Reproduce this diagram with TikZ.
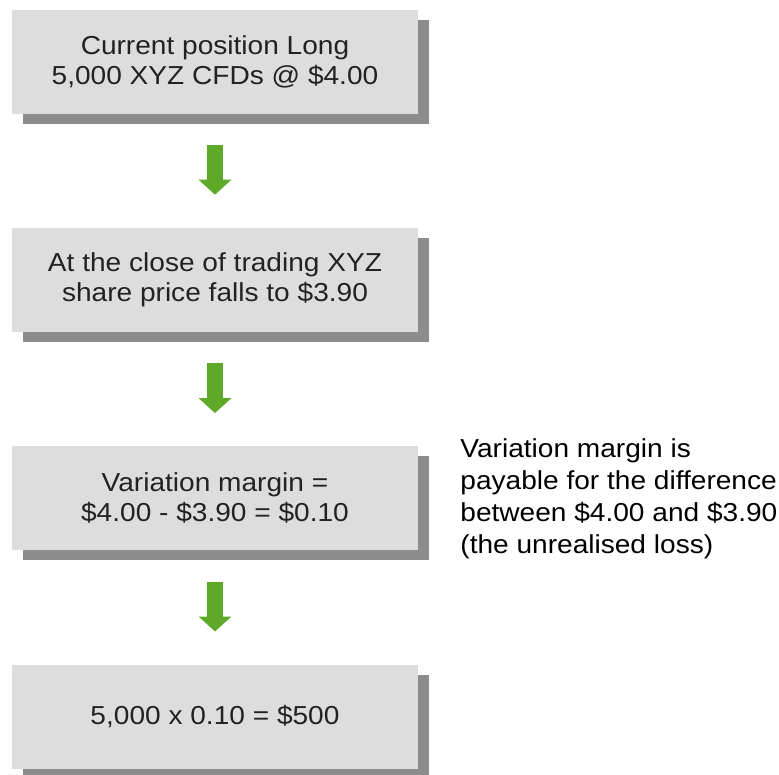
\documentclass[tikz,border=0pt]{standalone}
\usepackage{fontspec}
\setmainfont{Liberation Sans}[FakeStretch=1.08]
\usetikzlibrary{positioning,arrows.meta,shadows}

\definecolor{boxgray}{RGB}{221,221,221}
\definecolor{shadegray}{RGB}{140,140,140}
\definecolor{arrowgreen}{RGB}{94,170,40}
\definecolor{textgray}{RGB}{34,34,34}

\tikzset{
  stepbox/.style={fill=boxgray, text=textgray, minimum width=406pt, minimum height=104pt,
    align=center, font=\fontsize{26pt}{30pt}\selectfont,
    drop shadow={shadow xshift=11pt, shadow yshift=-10pt, fill=shadegray, opacity=1}},
  flow/.style={draw=arrowgreen, line width=16pt, shorten <=31pt, shorten >=33pt,
    -{Triangle[width=32pt,length=15pt,fill=arrowgreen]}},
  note/.style={align=left, font=\fontsize{26pt}{32pt}\selectfont, inner sep=0pt}
}

\begin{document}
\begin{tikzpicture}[x=1pt,y=-1pt,node distance=114pt]
  \useasboundingbox (0,0) rectangle (779,774);

  \node[stepbox] (pos) at (215,61.5) {Current position Long\\5,000 XYZ CFDs @ \$4.00};
  \node[stepbox, below=of pos] (close) {At the close of trading XYZ\\share price falls to \$3.90};
  \node[stepbox, below=of close] (vm) {Variation margin =\\\$4.00 - \$3.90 = \$0.10};
  \node[stepbox, below=of vm] (total) {5,000 x 0.10 = \$500};

  \draw[flow] (pos) -- (close);
  \draw[flow] (close) -- (vm);
  \draw[flow] (vm) -- (total);

  \node[note, right=42pt of vm] (why) {Variation margin is\\payable for the difference\\between \$4.00 and \$3.90\\(the unrealised loss)};
\end{tikzpicture}
\end{document}
